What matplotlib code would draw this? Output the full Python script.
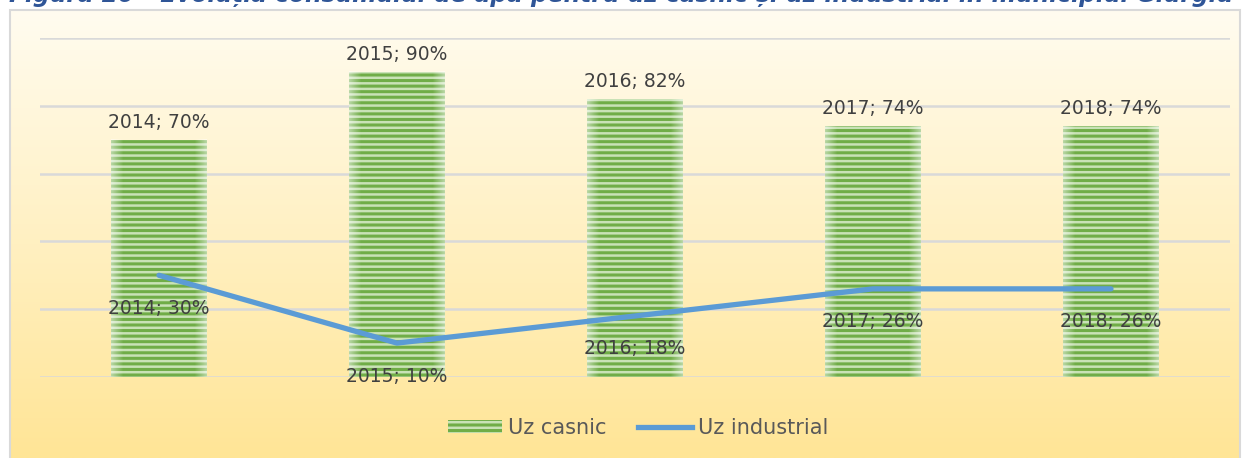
import numpy as np
import matplotlib
matplotlib.use("Agg")
import matplotlib.pyplot as plt
from matplotlib.patches import Rectangle, Patch
from matplotlib.lines import Line2D

years = ["2014", "2015", "2016", "2017", "2018"]
casnic = [70, 90, 82, 74, 74]
industrial = [30, 10, 18, 26, 26]
titlu = "Figura 20 - Evoluția consumului de apă pentru uz casnic și uz industrial în municipiul Giurgiu"

W, H = 1247, 458
plt.rcParams["hatch.linewidth"] = 2.2
plt.rcParams["font.family"] = ["DejaVu Sans"]

fig = plt.figure(figsize=(W / 100, H / 100), dpi=100)

# fundal cu gradient in chenar
bg = fig.add_axes([10 / W, 0, 1230 / W, (H - 10) / H])
c_top = np.array([255, 252, 240]) / 255
c_bot = np.array([255, 229, 150]) / 255
t = np.linspace(0, 1, 256)[:, None]
grad = c_top[None, None, :] * (1 - t[..., None]) + c_bot[None, None, :] * t[..., None]
grad = np.repeat(grad, 2, axis=1)
bg.imshow(grad, aspect="auto", extent=[0, 1, 0, 1])
bg.set_xlim(0, 1)
bg.set_ylim(0, 1)
bg.axis("off")
fig.patches.append(Rectangle((10 / W, -0.01), 1230 / W, (H - 10) / H + 0.01, transform=fig.transFigure,
                             fill=False, edgecolor="#D9D9D9", linewidth=1.5))

# titlul e taiat sus in original
fig.text(621 / W, 1 - 2 / H, titlu, ha="center", va="baseline", fontsize=16.8,
         style="italic", fontweight="bold", color="#2F5597")

ax = fig.add_axes([40 / W, 81 / H, 1190 / W, 339 / H])
ax.patch.set_alpha(0)
x = np.arange(len(years))
bw = 0.4
bars = ax.bar(x, casnic, width=bw, color="#C9E2B6", edgecolor="#70AD47", hatch="---",
              linewidth=0, zorder=2)

# margini albe ale barelor
edge = np.linspace(-1, 1, 100)
alpha = np.clip((np.abs(edge) - 0.75) / 0.25, 0, 1) * 0.5
ov = np.ones((1, 100, 4))
ov[0, :, 3] = alpha
for xi, v in zip(x, casnic):
    ax.imshow(ov, extent=[xi - bw / 2, xi + bw / 2, 0, v], aspect="auto", zorder=3)

ax.plot(x, industrial, color="#5B9BD5", linewidth=3.8, solid_capstyle="round", zorder=4)

for xi, y, v in zip(x, years, casnic):
    ax.annotate(f"{y}; {v}%", (xi, v), xytext=(0, 8), textcoords="offset pixels",
                ha="center", va="bottom", fontsize=13.5, color="#404040", zorder=5)
for xi, y, v in zip(x, years, industrial):
    ax.annotate(f"{y}; {v}%", (xi, v), xytext=(0, -33), textcoords="offset pixels",
                ha="center", va="center", fontsize=13.5, color="#404040", zorder=5)

ax.set_xlim(-0.5, len(years) - 0.5)
ax.set_ylim(0, 100)
ax.set_yticks(np.arange(0, 101, 20))
ax.yaxis.grid(True, color="#D9D9D9", linewidth=1.8, zorder=0)
ax.set_axisbelow(True)
ax.tick_params(left=False, bottom=False, labelleft=False, labelbottom=False)
for s in ax.spines.values():
    s.set_visible(False)

handles = [Patch(facecolor="#C9E2B6", edgecolor="#70AD47", hatch="---", linewidth=0, label="Uz casnic"),
           Line2D([0], [0], color="#5B9BD5", linewidth=3.8, label="Uz industrial")]
fig.legend(handles=handles, loc="center", bbox_to_anchor=(638 / W, 1 - 428 / H), ncol=2,
           frameon=False, fontsize=15, labelcolor="#595959", handlelength=2.6,
           handleheight=0.6, handletextpad=0.3, columnspacing=1.5)

fig.savefig("out.png", dpi=100)
